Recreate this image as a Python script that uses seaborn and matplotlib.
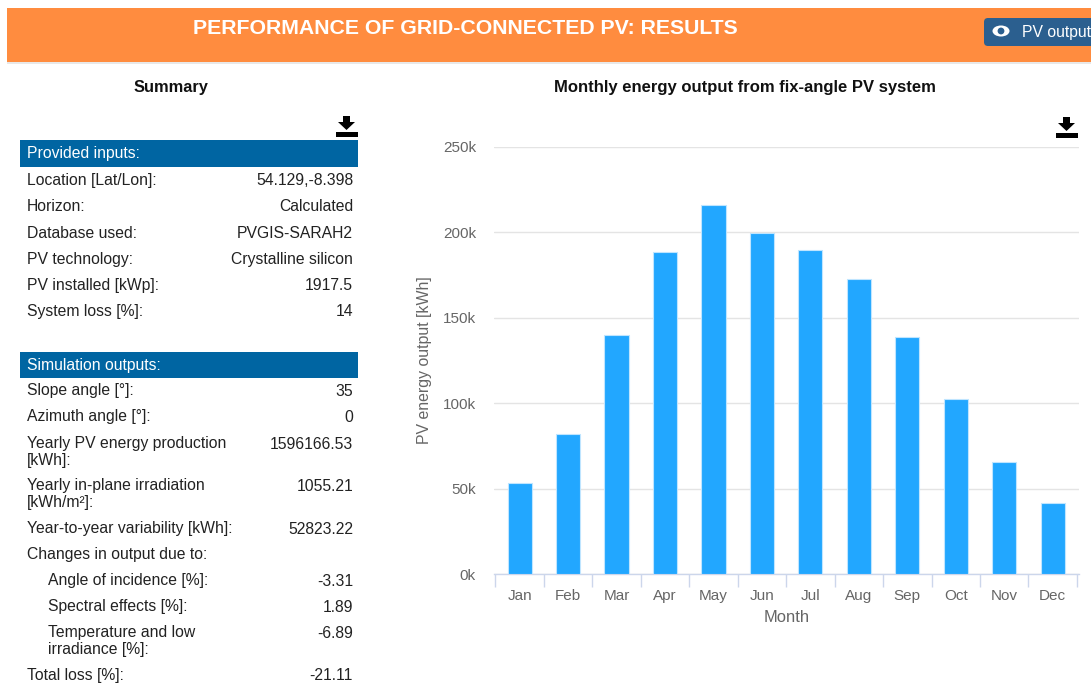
"""PVGIS grid-connected PV results page: summary table and monthly energy bars"""
import pandas as pd
import matplotlib
matplotlib.use('Agg')
import matplotlib.pyplot as plt
from matplotlib.patches import Rectangle, Polygon, Ellipse, Circle, FancyBboxPatch
import seaborn as sns

months = ['Jan', 'Feb', 'Mar', 'Apr', 'May', 'Jun', 'Jul', 'Aug', 'Sep', 'Oct', 'Nov', 'Dec']
energy_kwh = [53300, 82000, 140000, 188500, 216000, 199600, 189700, 172700, 138800, 102500, 65600, 41600]
y_ticks = [0, 50000, 100000, 150000, 200000, 250000]
y_tick_labels = ['0k', '50k', '100k', '150k', '200k', '250k']

input_labels = ['Location [Lat/Lon]:', 'Horizon:', 'Database used:', 'PV technology:',
                'PV installed [kWp]:', 'System loss [%]:']
input_values = ['54.129,-8.398', 'Calculated', 'PVGIS-SARAH2', 'Crystalline silicon', '1917.5', '14']

output_labels = ['Slope angle [°]:', 'Azimuth angle [°]:', 'Yearly PV energy production\n[kWh]:',
                 'Yearly in-plane irradiation\n[kWh/m²]:', 'Year-to-year variability [kWh]:',
                 'Changes in output due to:', 'Angle of incidence [%]:', 'Spectral effects [%]:',
                 'Temperature and low\nirradiance [%]:', 'Total loss [%]:']
output_values = ['35', '0', '1596166.53', '1055.21', '52823.22', '', '-3.31', '1.89', '-6.89', '-21.11']

sns.set_theme(style='white')
plt.rcParams['font.family'] = ['Liberation Sans', 'DejaVu Sans']

W, H = 1091, 694
ORANGE = '#ff8c3f'
BLUE = '#0065a2'
TEXT = '#222222'
GREY = '#666666'
BODY = 11.3

fig = plt.figure(figsize=(W / 100, H / 100), dpi=100, facecolor='white')

# page furniture is laid out in pixels
page = fig.add_axes([0, 0, 1, 1])
page.set_xlim(0, W)
page.set_ylim(H, 0)
page.axis('off')


def download_icon(x, y):
    page.add_patch(Polygon([(x + 7, y), (x + 14, y), (x + 14, y + 6), (x + 19, y + 6),
                            (x + 10.5, y + 14), (x + 2, y + 6), (x + 7, y + 6)],
                           color='black', lw=0))
    page.add_patch(Rectangle((x, y + 16), 22, 4.5, color='black', lw=0))


# header band
page.add_patch(Rectangle((7, 8), W - 7, 54, color=ORANGE, lw=0))
page.add_patch(Rectangle((7, 62), W - 7, 1.5, color='#e8e8e8', lw=0))
page.text(465, 28, 'PERFORMANCE OF GRID-CONNECTED PV: RESULTS', color='white', fontsize=15.3,
          fontweight='bold', ha='center', va='center')
page.add_patch(FancyBboxPatch((984, 18), 130, 28, boxstyle='round,pad=0,rounding_size=4',
                              fc='#2b5f8f', ec='#2b5f8f', lw=0))
page.add_patch(Ellipse((1001, 31), 17, 11, color='white', lw=0))
page.add_patch(Circle((1001, 31), 3.4, color='#2b5f8f', lw=0))
page.text(1022, 32, 'PV output', color='white', fontsize=BODY, ha='left', va='center', clip_on=False)

# summary table
page.text(171, 87, 'Summary', color='#111111', fontsize=11.8, fontweight='bold', ha='center', va='center')
download_icon(336, 116)
page.add_patch(Rectangle((20, 140), 338, 27, color=BLUE, lw=0))
page.text(27, 153, 'Provided inputs:', color='white', fontsize=BODY, ha='left', va='center')
page.add_patch(Rectangle((20, 352), 338, 26, color=BLUE, lw=0))
page.text(27, 365, 'Simulation outputs:', color='white', fontsize=BODY, ha='left', va='center')

input_rows = [180, 206, 233, 259, 285, 311]
for row, label, value in zip(input_rows, input_labels, input_values):
    page.text(27, row, label, color=TEXT, fontsize=BODY, ha='left', va='center')
    page.text(353, row, value, color=TEXT, fontsize=BODY, ha='right', va='center')

output_rows = [391, 417, 444, 486, 529, 555, 581, 607, 633, 676]
indented = [6, 7, 8]
for i, (row, label, value) in enumerate(zip(output_rows, output_labels, output_values)):
    x = 48 if i in indented else 27
    page.text(x, row - 8, label, color=TEXT, fontsize=BODY, ha='left', va='top', linespacing=1.14)
    page.text(353, row, value, color=TEXT, fontsize=BODY, ha='right', va='center')

# chart
page.text(745, 87, 'Monthly energy output from fix-angle PV system', color='#111111', fontsize=12,
          fontweight='bold', ha='center', va='center')
download_icon(1056, 117)

left, right, top, bottom = 494, 1079, 147, 574
ax = fig.add_axes([left / W, 1 - bottom / H, (right - left) / W, (bottom - top) / H])
ax.patch.set_alpha(0)
df = pd.DataFrame({'month': months, 'energy': energy_kwh})
sns.barplot(data=df, x='month', y='energy', color='#22a7ff', saturation=1, width=0.5,
            edgecolor='#bfe5ff', linewidth=0.8, ax=ax, zorder=3)
ax.set_xlim(-0.53, 11.544)
ax.set_ylim(0, 250000)
ax.set_yticks(y_ticks)
ax.set_yticklabels(y_tick_labels, color=GREY, fontsize=11)
ax.set_ylabel('PV energy output [kWh]', color=GREY, fontsize=11.4)
ax.yaxis.set_label_coords((424 - left) / (right - left), 0.5)
ax.yaxis.label.set_va('center')
ax.set_xlabel('Month', color=GREY, fontsize=11.9)
ax.xaxis.set_label_coords(0.5, -(617 - bottom) / (bottom - top))
ax.xaxis.label.set_va('center')
ax.grid(axis='y', color='#e4e4e4', lw=1)
ax.set_axisbelow(True)
sns.despine(ax=ax, left=True, top=True, right=True)
ax.spines['bottom'].set_color('#ccd6eb')
ax.spines['bottom'].set_linewidth(1)
# ticks sit on the category boundaries, labels stay centred
ax.set_xticks(range(len(months)))
ax.set_xticklabels(months, color=GREY, fontsize=11)
ax.tick_params(axis='x', which='major', length=0, pad=11)
ax.tick_params(axis='y', length=0, pad=13)
ax.set_xticks([i - 0.5 for i in range(len(months) + 1)], minor=True)
ax.tick_params(axis='x', which='minor', bottom=True, length=9, width=1, color='#ccd6eb')

fig.savefig('out.png', dpi=100)
